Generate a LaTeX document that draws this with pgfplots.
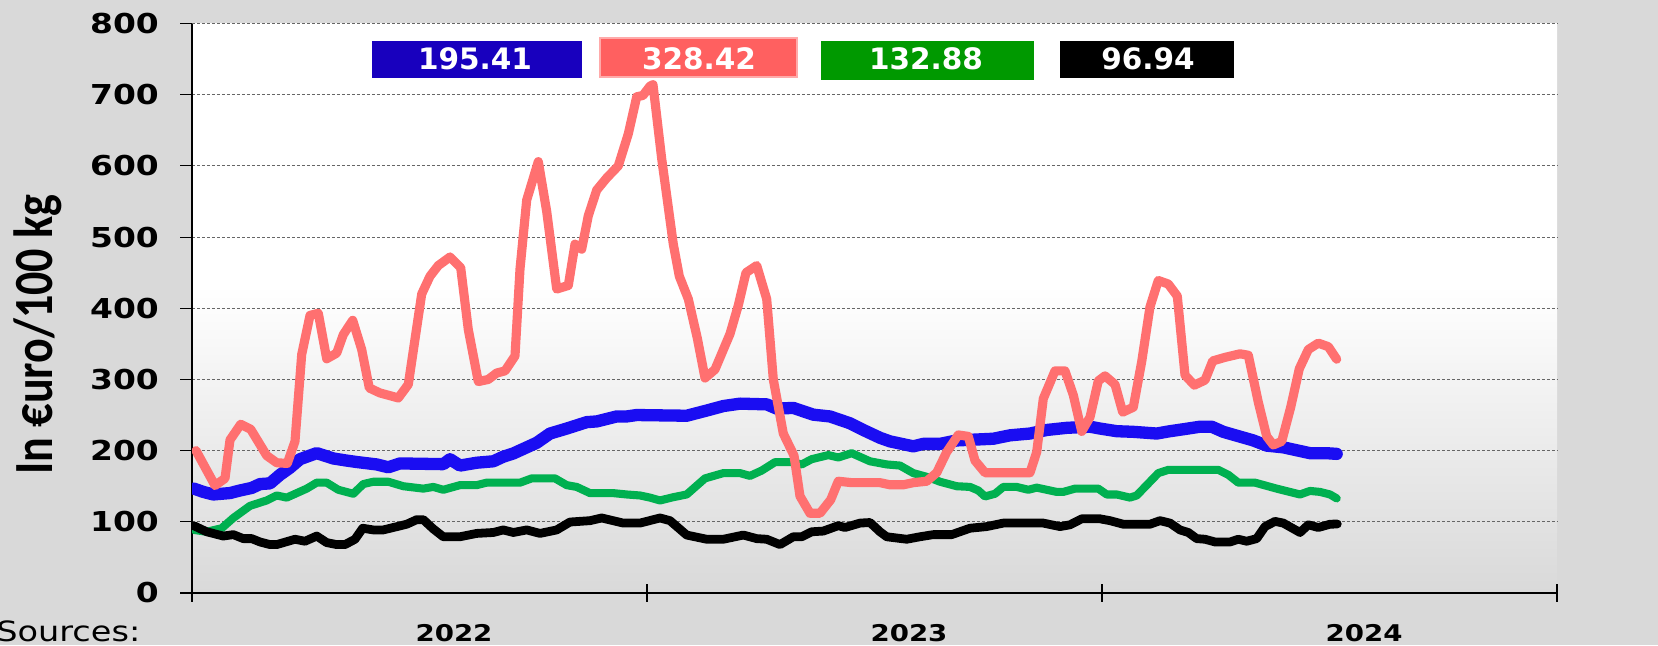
\documentclass[border=0pt]{standalone}
\usepackage{pgfplots}
\pgfplotsset{compat=1.18}
\usepackage{fontspec}
\setmainfont{DejaVu Sans}
\newfontfamily\tickfont{DejaVu Sans}[FakeStretch=1.2]
\newfontfamily\boxfont{DejaVu Sans}
\newfontfamily\labfont{Carlito}
\definecolor{bgg}{HTML}{D9D9D9}
\definecolor{gridc}{HTML}{666666}
\definecolor{lblue}{RGB}{26,13,242}
\definecolor{lred}{RGB}{255,112,112}
\definecolor{lgreen}{RGB}{0,176,80}
\definecolor{bblue}{RGB}{24,0,190}
\definecolor{bred}{RGB}{255,96,96}
\definecolor{bredl}{RGB}{255,170,170}
\definecolor{bgreen}{RGB}{0,153,0}
\pgfdeclareverticalshading{plotbg}{100bp}{color(0bp)=(bgg); color(25bp)=(bgg); color(52bp)=(white); color(100bp)=(white)}
\begin{document}
\begin{tikzpicture}
\useasboundingbox (0,0) rectangle (33.16cm,12.9cm);
\fill[bgg] (0,0) rectangle (33.16cm,12.9cm);
\begin{axis}[
  at={(3.84cm,1.04cm)}, anchor=south west,
  scale only axis, width=27.3cm, height=11.39cm,
  xmin=0, xmax=1365, ymin=0, ymax=800,
  axis x line*=bottom, axis y line*=left,
  axis line style={-, black, line width=0.6pt},
  axis background/.style={shading=plotbg},
  ytick={0,100,...,800},
  xtick=\empty,
  extra x ticks={0,455,910,1365},
  extra x tick labels={},
  extra x tick style={tick align=center, major tick length=0.36cm, grid=none},
  tick align=outside, major tick length=0.24cm,
  tick style={black, line width=0.6pt},
  ymajorgrids,
  major grid style={gridc, line width=0.6pt, dash pattern=on 0.06cm off 0.04cm},
  /pgf/number format/assume math mode=true,
  yticklabel style={font=\tickfont\bfseries\fontsize{15.6}{16}\selectfont, xshift=-0.3cm},
  every axis plot/.append style={line join=round, line cap=round},
]
\addplot[lgreen, line width=4.6pt] coordinates {
(2,88.6) (14.7,86) (29.7,91) (41.3,105.4) (58,122.4) (74.7,130) (84.7,137) (94.7,134) (104.7,140.3) (114.7,146.6) (124.7,155) (134.7,155) (146.3,145) (161.3,139.4) (171.3,153) (181.3,156.3) (196.3,156.3) (211.3,150) (231.3,146.6) (241.3,149) (251.3,145) (268,151.5) (284.7,151.5) (294.7,155) (328,155) (339.7,161) (363,161) (374.7,151.5) (384.7,149) (398,140.3) (421.3,140.3) (434.7,138.4) (448,137) (458,134) (468,130) (481.3,134.6) (494.7,138.4) (513,161) (531.3,168.4) (548,168.4) (558,164.5) (569.7,172) (583,183.8) (599.7,183.8) (609.7,180.6) (619.7,188) (636.3,193.7) (646.3,190.4) (659.7,196.4) (678,185) (694.7,180.6) (708,179) (721.3,168.4) (736.3,162.6) (748,156.3) (764.7,150) (778,149) (786.3,144) (793,135.6) (803,139.4) (811.3,149) (824.7,149) (836.3,145) (844.7,148) (864.7,142) (871.3,142) (883,146.6) (906.3,146.6) (914.7,138.4) (924.7,138.4) (938,134) (944.7,137) (954.7,151.5) (966.3,168.4) (976.3,173) (1026.3,173) (1036.3,166) (1046.3,155) (1063,155) (1084.7,146.6) (1108,138.4) (1118,143.4) (1128,142) (1138,138.4) (1144.7,132.88)
};
\addplot[black, line width=5pt] coordinates {
(2,94.4) (14.7,86) (31.3,80) (41.3,82) (51.3,76.4) (59.7,76.4) (68,71.7) (78,68) (84.7,68) (103,75.5) (113,72.7) (124.7,80) (134.7,70.8) (144.7,68) (153,68) (163,75.5) (170.7,91) (181.3,88.6) (191.3,88.6) (201.3,92) (214.7,96.6) (224.7,103) (231.3,103) (241.3,90) (251.3,79) (268,79) (284.7,83.7) (301.3,85) (311.3,88.6) (321.3,85) (334.7,88.6) (348,83.7) (364.7,88.6) (378,99.7) (398,101.6) (409.7,105.4) (431.3,98.2) (448,98.2) (468,105.4) (478,101.6) (494.7,81.4) (514.7,75.5) (531.3,75.5) (551.3,81.4) (564.7,76.4) (574.7,75.5) (588,68) (601.3,79) (609.7,79) (619.7,86) (631.3,87) (646.3,94.6) (653,92) (668,98.2) (678,99) (688,86) (694.7,79) (714.7,75.5) (728,79) (741.3,82) (759.7,82) (778,91) (794.7,93.3) (811.3,98.2) (851.3,98.2) (868,93.3) (878,95.8) (889.7,104.2) (908,104.2) (918,101.6) (931.3,96.6) (958,96.6) (968,101.6) (978,98.2) (988,88.6) (996.3,85) (1004.7,76.4) (1013,75.5) (1023,71.7) (1038,71.7) (1046.3,75.5) (1054.7,72.7) (1064.7,76.4) (1073,93.3) (1083,100.6) (1091.3,98.2) (1108,85) (1116.3,95.8) (1126.3,92) (1138,96.6) (1145.3,96.94)
};
\addplot[lblue, line width=7pt] coordinates {
(2,146.6) (11.3,142) (21.3,138.4) (38,140.4) (48,144) (59.7,147.6) (68,153) (78,154) (88,166) (98,176) (108,188) (124.7,196.5) (141.3,189) (154.7,186) (164.7,184) (184.7,180.6) (196.3,176.6) (208,182) (251.3,181) (258,188) (268,179) (284.7,183) (301.3,185) (311.3,191.5) (321.3,196) (334.7,204.6) (344.7,211) (358,224) (374.7,231) (394.7,240) (404.7,241) (424.7,248) (434.7,248) (444.7,250) (494.7,249) (514.7,256.3) (531.3,262.6) (548,266) (574.7,265) (584.7,259) (601.3,260) (621.3,250.5) (638,248) (658,238.4) (671.3,229) (688,218) (698,213) (721.3,206) (731.3,209.5) (748,209.5) (764.7,214.3) (801.3,216.7) (818,221.5) (838,224) (854.7,229) (874.7,232) (898,233.6) (908,231) (924.7,227.3) (941.3,226.4) (964.7,224) (978,227.3) (991.3,230) (1008,233.6) (1019.7,233.6) (1031.3,226.4) (1061.3,214.3) (1074.7,207) (1091.3,204.6) (1118,196.4) (1134.7,196.4) (1144.7,195.41)
};
\addplot[lred, line width=5.2pt] coordinates {
(4,200) (23,151) (33,161) (38,215) (48.7,237) (58.7,230) (74.7,193) (84.7,183) (95.3,182) (103,213) (109.7,335) (118,390) (126.3,393) (134.7,329) (144.7,337) (151.3,363) (160.7,383) (169.7,342) (177.3,288) (188,281) (206.3,274) (216.3,293) (229.7,420) (238,445) (246.3,460) (258,472) (268.7,457) (276.3,370) (286.3,297) (296.3,300) (304.7,309) (313,312) (323,333) (328,455) (334.7,552) (346.3,606) (354.7,536) (364.7,427) (376.3,432) (383,490) (389.7,483) (396.3,530) (404.7,566) (414.7,583) (426.3,600) (436.3,645) (444.7,697) (451,699) (458,712) (461,714) (469.7,610) (481.3,490) (487.3,445) (496.3,413) (505.3,358) (513,302) (523,314) (538,364) (546.3,404) (554,450) (564.7,460) (574.7,413) (581.3,300) (591.3,224) (602,193) (608,136) (618,112) (628,112) (638.7,131) (646.3,157) (659.7,155) (688,155) (698,152) (711.3,152) (721.3,155) (734.7,157) (744.7,169) (754.7,198) (766.3,222) (776.3,220) (783,186) (793,169) (838,169) (844.7,198) (851.3,273) (863,312) (873,312) (881.3,278) (889.7,227) (898,247) (906.3,298) (913,305) (923,293) (930.7,254) (941.3,261) (949.7,325) (958,402) (966.3,439) (976.3,434) (985.3,417) (993,306) (1002.3,292) (1013,299) (1020.7,326) (1033,331) (1048,336) (1056.3,334) (1066.3,268) (1074.7,220) (1081.3,208) (1089.7,213) (1098.7,261) (1107.3,315) (1116.3,342) (1126.3,351) (1136.3,346) (1144.7,328.42)
};
\end{axis}
% value boxes
\fill[bblue] (7.44cm,11.34cm) rectangle (11.64cm,12.08cm);
\filldraw[fill=bred, draw=bredl, line width=0.6pt] (12.0cm,11.36cm) rectangle (15.94cm,12.14cm);
\fill[bgreen] (16.42cm,11.30cm) rectangle (20.68cm,12.08cm);
\fill[black] (21.2cm,11.34cm) rectangle (24.68cm,12.08cm);
\node[white, anchor=base, inner sep=0] at (9.5cm,11.51cm) {\boxfont\bfseries\fontsize{16.8}{18}\selectfont 195.41};
\node[white, anchor=base, inner sep=0] at (13.98cm,11.51cm) {\boxfont\bfseries\fontsize{16.8}{18}\selectfont 328.42};
\node[white, anchor=base, inner sep=0] at (18.52cm,11.51cm) {\boxfont\bfseries\fontsize{16.8}{18}\selectfont 132.88};
\node[white, anchor=base, inner sep=0] at (22.96cm,11.51cm) {\boxfont\bfseries\fontsize{16.8}{18}\selectfont 96.94};
% y label
\node[rotate=90, inner sep=0] at (0.75cm,6.21cm) {\scalebox{1}[1.2]{\labfont\bfseries\fontsize{26.2}{28}\selectfont In €uro/100 kg}};
% year labels
\node[anchor=base, inner sep=0] at (9.08cm,0.06cm) {\tickfont\bfseries\fontsize{13.1}{14}\selectfont 2022};
\node[anchor=base, inner sep=0] at (18.18cm,0.06cm) {\tickfont\bfseries\fontsize{13.1}{14}\selectfont 2023};
\node[anchor=base, inner sep=0] at (27.28cm,0.06cm) {\tickfont\bfseries\fontsize{13.1}{14}\selectfont 2024};
% sources
\node[anchor=base west, inner sep=0] at (-0.08cm,0.06cm) {\tickfont\fontsize{15.9}{16}\selectfont Sources:};
\end{tikzpicture}
\end{document}
